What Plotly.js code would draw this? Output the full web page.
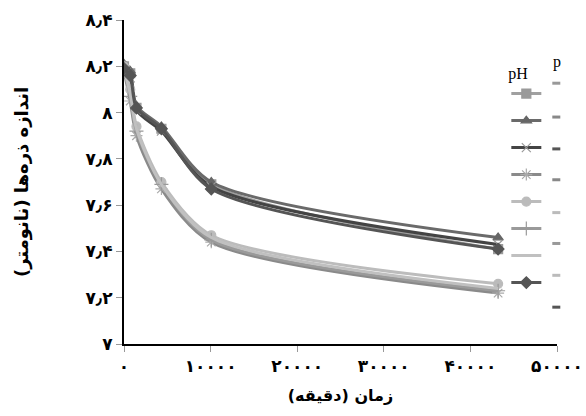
<!DOCTYPE html>
<html>
<head>
<meta charset="utf-8">
<script src="https://cdn.plot.ly/plotly-3.0.1.min.js"></script>
<style>html,body{margin:0;padding:0;background:#fff;}#chart{width:586px;height:416px;}</style>
</head>
<body>
<div id="chart"></div>
<script>
// time in minutes
const times = [0, 720, 1440, 4320, 10080, 43200];

// particle size series (upper group)
const sSquare   = [8.20, 8.17, 8.02, 7.93, 7.69, 7.41];
const sTriangle = [8.21, 8.18, 8.03, 7.94, 7.70, 7.46];
const sCross    = [8.19, 8.15, 8.01, 7.92, 7.68, 7.43];
const sDiamond  = [8.19, 8.16, 8.02, 7.93, 7.67, 7.41];
// lower group
const sStar     = [8.18, 8.05, 7.90, 7.67, 7.44, 7.22];
const sCircle   = [8.20, 8.10, 7.94, 7.70, 7.47, 7.26];
const sPlus     = [8.19, 8.07, 7.92, 7.69, 7.45, 7.23];
const sPlain    = [8.19, 8.08, 7.93, 7.69, 7.46, 7.24];

const xTickVals = [0, 10000, 20000, 30000, 40000, 50000];
const xTickText = ['٠', '١٠٠٠٠', '٢٠٠٠٠', '٣٠٠٠٠', '۴٠٠٠٠', '۵٠٠٠٠'];
const yTickVals = [7, 7.2, 7.4, 7.6, 7.8, 8, 8.2, 8.4];
const yTickText = ['٧', '٧٫٢', '٧٫۴', '٧٫۶', '٧٫٨', '٨', '٨٫٢', '٨٫۴'];

const xTitle = 'زمان (دقیقه)';
const yTitle = 'اندازه ذره‌ها (نانومتر)';
const legendTitle = 'pH';

function tr(y, lineColor, symbol, markerColor, size, group, lineW) {
  const t = {
    x: times, y: y, type: 'scatter', name: ' ',
    legendgroup: group,
    mode: symbol ? 'lines+markers' : 'lines',
    line: {color: lineColor, width: lineW || 3, shape: 'spline', smoothing: 0.8},
    hoverinfo: 'skip'
  };
  if (symbol) {
    t.marker = {symbol: symbol, size: size, color: markerColor,
                line: {color: markerColor, width: 1.2}};
  }
  return t;
}

const data = [
  tr(sSquare,   '#a0a0a0', 'square',           '#9a9a9a', 9, 'g1'),
  tr(sTriangle, '#6a6a6a', 'triangle-up',      '#666666', 9, 'g2'),
  tr(sCross,    '#444444', 'x-thin-open',      '#9a9a9a', 9, 'g3'),
  tr(sStar,     '#8a8a8a', 'asterisk-open',    '#aaaaaa', 10, 'g4'),
  tr(sCircle,   '#bcbcbc', 'circle',           '#bbbbbb', 9, 'g5'),
  tr(sPlus,     '#9a9a9a', 'cross-thin-open',  '#999999', 10, 'g6'),
  tr(sPlain,    '#c0c0c0', null,               null,       0, 'g7'),
  tr(sDiamond,  '#555555', 'diamond',          '#555555', 9, 'g8')
];

// clipped second legend column (decoration)
const stubColors = ['#999999', '#888888', '#555555', '#888888', '#bbbbbb', '#999999', '#bbbbbb', '#555555'];
const stubY = [83, 117, 149, 180, 213, 244, 276, 308];
const shapes = stubY.map((py, i) => ({
  type: 'line', xref: 'paper', yref: 'paper',
  x0: (552 - 123.5) / 433.2, x1: (560 - 123.5) / 433.2,
  y0: (345 - py) / 325.5, y1: (345 - py) / 325.5,
  line: {color: stubColors[i], width: 3}
}));

const layout = {
  width: 586, height: 416,
  margin: {l: 123.5, r: 29.3, t: 19.5, b: 71.5, pad: 0},
  paper_bgcolor: '#ffffff', plot_bgcolor: '#ffffff',
  font: {family: 'DejaVu Sans', color: '#000'},
  showlegend: true,
  legend: {
    x: (506 - 123.5) / 433.2, xanchor: 'left',
    y: (345 - 58) / 325.5, yanchor: 'top',
    bgcolor: 'rgba(0,0,0,0)', borderwidth: 0,
    traceorder: 'grouped', tracegroupgap: 8,
    font: {family: 'Liberation Serif', size: 12, color: '#000'},
    title: {text: legendTitle, font: {family: 'Liberation Serif', size: 16, color: '#000'}},
    itemwidth: 30
  },
  xaxis: {
    range: [0, 50000], tickvals: xTickVals, ticktext: xTickText,
    showgrid: false, zeroline: false,
    showline: true, linecolor: '#000', linewidth: 2,
    ticks: 'outside', ticklen: 6, tickcolor: '#999', tickwidth: 1,
    tickfont: {family: 'DejaVu Sans', size: 17, color: '#000', weight: 'bold'},
    title: {text: '<b>' + xTitle + '</b>', font: {family: 'DejaVu Sans', size: 16, color: '#000'}, standoff: 14}
  },
  yaxis: {
    range: [7, 8.4], tickvals: yTickVals, ticktext: yTickText,
    showgrid: false, zeroline: false,
    showline: true, linecolor: '#000', linewidth: 2,
    ticks: 'outside', ticklen: 6, tickcolor: '#999', tickwidth: 1,
    tickfont: {family: 'DejaVu Sans', size: 17, color: '#000', weight: 'bold'},
    title: {text: '<b>' + yTitle + '</b>', font: {family: 'DejaVu Sans', size: 18, color: '#000'}, standoff: 52}
  },
  shapes: shapes,
  annotations: [{
    text: 'p', xref: 'paper', yref: 'paper',
    x: (551 - 123.5) / 433.2, y: (345 - 62) / 325.5,
    xanchor: 'left', yanchor: 'middle', showarrow: false,
    font: {family: 'Liberation Serif', size: 16, color: '#000'}
  }]
};

Plotly.newPlot('chart', data, layout, {displayModeBar: false, staticPlot: true});
</script>
</body>
</html>
